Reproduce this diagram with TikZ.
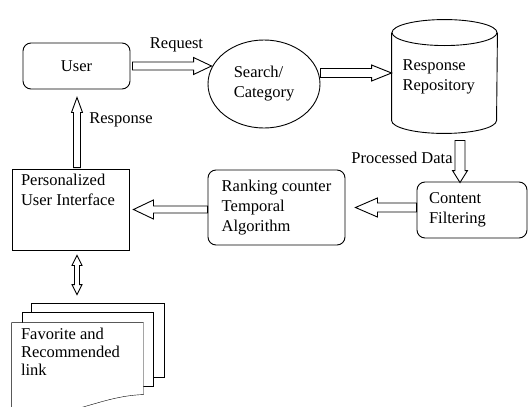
\documentclass[tikz,border=0pt]{standalone}
\usepackage{fontspec}
\setmainfont{Liberation Serif}
\usetikzlibrary{calc,shapes.geometric,backgrounds}

\begin{document}
\begin{tikzpicture}[x=1pt,y=-1pt,line width=0.9pt,
  every node/.style={font=\fontsize{16.5}{20}\selectfont}]
\tikzstyle{box}=[draw,rounded corners=8pt,align=left]
\tikzset{
  hollow/.style n args={3}{draw,fill=white,to path={
    let \p1=($(\tikztotarget)!#3!(\tikztostart)$) in
    ($(\tikztostart)!#1!90:(\tikztotarget)$) -- ($(\p1)!#1!90:(\tikztotarget)$)
    -- ($(\p1)!#2!90:(\tikztotarget)$) -- (\tikztotarget)
    -- ($(\p1)!#2!-90:(\tikztotarget)$) -- ($(\p1)!#1!-90:(\tikztotarget)$)
    -- ($(\tikztostart)!#1!-90:(\tikztotarget)$) -- cycle}},
  twoway/.style n args={3}{draw,fill=white,to path={
    let \p1=($(\tikztostart)!#3!(\tikztotarget)$),
        \p2=($(\tikztotarget)!#3!(\tikztostart)$) in
    (\tikztostart) -- ($(\p1)!#2!90:(\tikztotarget)$) -- ($(\p1)!#1!90:(\tikztotarget)$)
    -- ($(\p2)!#1!90:(\tikztotarget)$) -- ($(\p2)!#2!90:(\tikztotarget)$) -- (\tikztotarget)
    -- ($(\p2)!#2!-90:(\tikztotarget)$) -- ($(\p2)!#1!-90:(\tikztotarget)$)
    -- ($(\p1)!#1!-90:(\tikztotarget)$) -- ($(\p1)!#2!-90:(\tikztotarget)$) -- cycle}}
}
\useasboundingbox (0,0) rectangle (528,407);

\node [box,minimum width=107pt,minimum height=46pt] (user) at (76.5,66) {User};
\node [draw,ellipse,minimum width=112pt,minimum height=88pt,inner sep=0pt,align=left] (search) at (264,84) {Search/\\Category};
\node [minimum width=105pt,minimum height=113pt,text width=84pt,align=left] (repo) at (444.5,76.5) {Response\\Repository};
\node [box,minimum width=110pt,minimum height=56pt,text width=86pt] (content) at (472,210) {Content\\Filtering};
\node [box,minimum width=137pt,minimum height=75pt] (rank) at (276.5,207.5) {Ranking counter\\Temporal\\Algorithm};
\node [draw,minimum width=117pt,minimum height=81pt,
  label={[anchor=north west,align=left,inner xsep=9pt,inner ysep=5pt]north west:Personalized\\User Interface}] (pui) at (70.5,209.5) {};
\node [minimum width=131pt,minimum height=94pt,
  label={[anchor=north west,align=left,inner xsep=9pt,inner ysep=5pt,font=\fontsize{16.5}{18}\selectfont]north west:Favorite and\\Recommended\\link}] (fav) at (77.5,370) {};

\draw ([yshift=-13pt]repo.north) ellipse [x radius=52.5pt,y radius=13pt];
\draw ([yshift=-13pt]repo.north west) -- ([yshift=13pt]repo.south west)
  arc [start angle=180,end angle=360,x radius=52.5pt,y radius=13pt] -- ([yshift=-13pt]repo.north east);

\begin{scope}[on background layer]
\draw[fill=white] ([xshift=20pt,yshift=19pt]fav.north west) rectangle ([xshift=21pt,yshift=-55pt]fav.north east);
\draw[fill=white] ([xshift=11pt,yshift=10pt]fav.north west) rectangle ([xshift=10pt,yshift=-64pt]fav.north east);
\draw[fill=white] (fav.north west) -- (fav.north east) -- ([yshift=-72pt]fav.north east)
  .. controls +(-28pt,-1pt) and +(25pt,6pt) .. ([xshift=-7.5pt,yshift=7pt]fav.south)
  .. controls +(-25pt,-6pt) and +(15pt,0pt) .. (fav.south west) -- cycle;
\end{scope}

\draw[hollow={4pt}{8.5pt}{18pt}] ([xshift=2pt]user.east) to ([xshift=4pt,yshift=18pt]search.west);
\draw[hollow={4.5pt}{8pt}{20pt}] ([yshift=11pt]search.east) to ([yshift=3.5pt]repo.west);
\draw[hollow={5pt}{7.5pt}{12pt}] ([xshift=15.5pt,yshift=-7pt]repo.south) to ([xshift=-12pt,yshift=-1pt]content.north);
\draw[hollow={4.5pt}{9.5pt}{22pt}] ([yshift=2.5pt]content.west) to ([xshift=10pt]rank.east);
\draw[hollow={3.5pt}{9.5pt}{20pt}] ([yshift=-2pt]rank.west) to ([xshift=4pt]pui.east);
\draw[hollow={3.5pt}{5.5pt}{15pt}] ([xshift=6.5pt,yshift=1pt]pui.north) to ([xshift=0.5pt,yshift=-8pt]user.south);
\draw[twoway={2.5pt}{5pt}{10pt}] ([xshift=6.5pt,yshift=-5pt]pui.south) to ([xshift=-0.5pt,yshift=28pt]fav.north);

\node (request) at (176.5,45) {Request};
\node (response) at (121,120) {Response};
\node (processed) at (402,158) {Processed Data};
\end{tikzpicture}
\end{document}
